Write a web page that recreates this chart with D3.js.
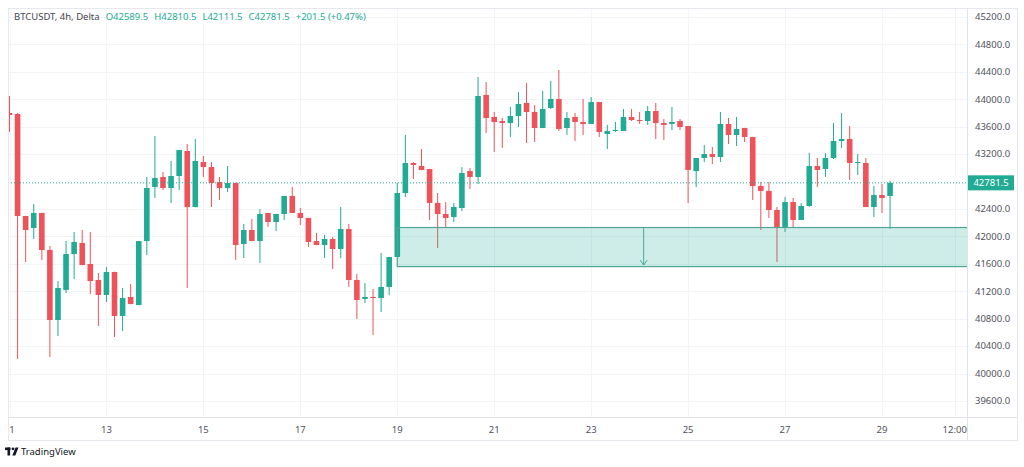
<!DOCTYPE html>
<html>
<head>
<meta charset="utf-8">
<script src="https://cdn.jsdelivr.net/npm/d3@7"></script>
<style>
  body { margin: 0; background: #fff; }
  svg { display: block; font-family: "Noto Sans", "Open Sans", sans-serif; }
</style>
</head>
<body>
<div id="chart"></div>
<script>
// BTCUSDT 4h candles, Dec 11 00:00 onward (one entry per 4h bar)
const opens = [43800, 43785, 42298, 42123, 42342, 41802, 40781, 41219, 41744, 41904,
  41598, 41365, 41146, 41481, 40840, 41117, 41000, 41933, 42721, 42867,
  42706, 42881, 43246, 42429, 43085, 43012, 42794, 42706, 42779, 41890,
  42094, 41933, 42342, 42210, 42327, 42590, 42342, 42269, 41933, 41875,
  41963, 41817, 42108, 41365, 41088, 41117, 41102, 41263, 41700, 42633,
  43071, 43027, 42983, 42488, 42327, 42283, 42415, 42954, 42867, 44063,
  43742, 43683, 43654, 43756, 43946, 43815, 43581, 43873, 44004, 43581,
  43742, 43669, 43640, 43960, 43494, 43538, 43538, 43742, 43698, 43683,
  43829, 43654, 43640, 43683, 43610, 42954, 43144, 43202, 43158, 43640,
  43479, 43581, 43450, 42735, 42663, 42385, 42123, 42502, 42240, 42444,
  43027, 42983, 43144, 43392, 43421, 43071, 43071, 42429, 42604, 42589.5];
const highs = [44048, 43800, 42300, 42473, 42345, 41860, 41350, 41933, 42065, 42094,
  42065, 41467, 41554, 41485, 41248, 41306, 41935, 42867, 43465, 42940,
  43100, 43262, 43348, 43421, 43173, 43085, 42867, 43027, 42785, 42181,
  42254, 42400, 42345, 42330, 42592, 42721, 42415, 42272, 42050, 42021,
  41992, 42429, 42181, 41452, 41321, 41233, 41758, 41702, 42779, 43479,
  43085, 43275, 42985, 42633, 42502, 42488, 43012, 42998, 44325, 44252,
  43815, 43727, 43888, 44106, 44238, 43917, 44121, 44267, 44427, 43815,
  43800, 44004, 44033, 43962, 43625, 43669, 43858, 43858, 43815, 43902,
  43946, 43713, 43888, 43713, 43612, 43146, 43333, 43304, 43815, 43727,
  43742, 43583, 43452, 42794, 42794, 42429, 42575, 42560, 42488, 43217,
  43144, 43217, 43654, 43800, 43610, 43202, 43144, 42735, 42765, 42810.5];
const lows = [43523, 40213, 41627, 41963, 41656, 40242, 40548, 41175, 41379, 41580,
  41160, 40694, 41044, 40533, 40621, 41010, 40995, 41729, 42560, 42677,
  42488, 42677, 41248, 42425, 42867, 42429, 42531, 42648, 41656, 41685,
  41930, 41613, 42138, 42079, 42240, 42340, 42167, 41846, 41872, 41685,
  41525, 41685, 41263, 40796, 41029, 40563, 40898, 41146, 41698, 42575,
  42838, 42965, 42240, 41831, 42138, 42210, 42371, 42692, 42765, 43508,
  43231, 43290, 43450, 43596, 43363, 43377, 43580, 43858, 43538, 43479,
  43392, 43479, 43638, 43450, 43275, 43523, 43536, 43683, 43640, 43625,
  43421, 43406, 43552, 43552, 42488, 42721, 43085, 43056, 43085, 43348,
  43319, 43377, 42531, 42094, 42269, 41627, 42065, 42123, 42238, 42429,
  42721, 42867, 43129, 43290, 42823, 42896, 42427, 42283, 42342, 42111.5];
const closes = [43771, 42298, 42094, 42342, 41802, 40781, 41248, 41744, 41919, 41583,
  41350, 41146, 41481, 40840, 41102, 41015, 41933, 42706, 42852, 42706,
  42881, 43260, 42429, 43100, 43012, 42779, 42706, 42779, 41875, 42094,
  41933, 42327, 42210, 42327, 42590, 42342, 42269, 41919, 41875, 41963,
  41817, 42108, 41365, 41073, 41117, 41102, 41263, 41700, 42633, 43071,
  43042, 42969, 42488, 42327, 42269, 42429, 42925, 42867, 44048, 43727,
  43669, 43654, 43756, 43931, 43815, 43581, 43858, 44004, 43567, 43727,
  43669, 43640, 43960, 43523, 43538, 43552, 43742, 43698, 43683, 43829,
  43654, 43625, 43669, 43596, 42969, 43144, 43202, 43158, 43640, 43479,
  43567, 43450, 42735, 42663, 42385, 42123, 42502, 42240, 42444, 43027,
  42969, 43144, 43392, 43421, 43071, 43085, 42429, 42604, 42560, 42781.5];

// x axis: bar index of each label (11th 00:00 is bar 0, 6 bars per day)
const xTickIndex = [0, 12, 24, 36, 48, 60, 72, 84, 96, 108, 117];
const xTickLabels = ["1", "13", "15", "17", "19", "21", "23", "25", "27", "29", "12:00"];
const yTicks = [39600, 40000, 40400, 40800, 41200, 41600, 42000, 42400, 43200, 43600, 44000, 44400, 44800, 45200];

// drawn demand zone and its arrow
const zoneStart = 48;
const zoneTop = 42130;
const zoneBottom = 41560;
const arrowIndex = 78.5;

const symbol = "BTCUSDT, 4h, Delta";
const lastPrice = 42781.5;

const candles = opens.map((o, i) => ({i: i, o: o, h: highs[i], l: lows[i], c: closes[i]}));

const width = 1024, height = 467;
const frame = {left: 8, top: 8, right: 1017, bottom: 440};
const plotRight = 967, plotBottom = 417;
const up = "#22ab94", down = "#f0525a";

const svg = d3.select("#chart").append("svg")
    .attr("width", width)
    .attr("height", height);

const x = d3.scaleLinear()
    .domain([0, 117])
    .range([9.5, 954.7]);

const y = d3.scaleLinear()
    .domain([39600, 45200])
    .range([401, 17]);

// outer frame
svg.append("rect")
    .attr("x", frame.left + 0.5).attr("y", frame.top + 0.5)
    .attr("width", frame.right - frame.left).attr("height", frame.bottom - frame.top)
    .attr("fill", "#fff").attr("stroke", "#e6e8ee");

svg.append("defs").append("clipPath").attr("id", "plot")
    .append("rect")
    .attr("x", frame.left + 1).attr("y", frame.top + 1)
    .attr("width", plotRight - frame.left - 1).attr("height", plotBottom - frame.top - 1);

// grid
const grid = svg.append("g").attr("clip-path", "url(#plot)");
grid.selectAll(".vg").data(xTickIndex).enter().append("line")
    .attr("x1", d => Math.round(x(d)) + 0.5).attr("x2", d => Math.round(x(d)) + 0.5)
    .attr("y1", frame.top).attr("y2", plotBottom)
    .attr("stroke", "#f3f4f7");
grid.selectAll(".hg").data(yTicks).enter().append("line")
    .attr("x1", frame.left).attr("x2", plotRight)
    .attr("y1", d => Math.round(y(d)) + 0.5).attr("y2", d => Math.round(y(d)) + 0.5)
    .attr("stroke", "#f3f4f7");

// axis separators
svg.append("line")
    .attr("x1", plotRight + 0.5).attr("x2", plotRight + 0.5)
    .attr("y1", frame.top).attr("y2", frame.bottom)
    .attr("stroke", "#e0e3eb");
svg.append("line")
    .attr("x1", frame.left).attr("x2", frame.right)
    .attr("y1", plotBottom + 0.5).attr("y2", plotBottom + 0.5)
    .attr("stroke", "#e0e3eb");

const plot = svg.append("g").attr("clip-path", "url(#plot)");

// candles
const bodyW = 5.6;
const g = plot.selectAll(".candle").data(candles).enter().append("g");
g.append("line")
    .attr("x1", d => x(d.i)).attr("x2", d => x(d.i))
    .attr("y1", d => y(d.h)).attr("y2", d => y(d.l))
    .attr("stroke", d => d.c >= d.o ? up : down)
    .attr("stroke-width", 1);
g.append("rect")
    .attr("x", d => x(d.i) - bodyW / 2)
    .attr("y", d => y(Math.max(d.o, d.c)))
    .attr("width", bodyW)
    .attr("height", d => Math.max(1, Math.abs(y(d.o) - y(d.c))))
    .attr("fill", d => d.c >= d.o ? up : down);

// last price dotted line
plot.append("line")
    .attr("x1", frame.left).attr("x2", plotRight)
    .attr("y1", y(lastPrice)).attr("y2", y(lastPrice))
    .attr("stroke", up).attr("stroke-width", 1)
    .attr("stroke-dasharray", "1,2");

// zone rectangle
plot.append("rect")
    .attr("x", x(zoneStart))
    .attr("y", y(zoneTop))
    .attr("width", plotRight - x(zoneStart) + 5)
    .attr("height", y(zoneBottom) - y(zoneTop))
    .attr("fill", "rgba(34,171,148,0.22)")
    .attr("stroke", "#4fa596").attr("stroke-width", 1.2);

// arrow inside zone
const ax = x(arrowIndex), ay1 = y(zoneTop), ay2 = y(zoneBottom) - 1.5;
plot.append("line")
    .attr("x1", ax).attr("x2", ax).attr("y1", ay1).attr("y2", ay2)
    .attr("stroke", "#4fa596").attr("stroke-width", 1);
plot.append("path")
    .attr("d", `M${ax - 3.5},${ay2 - 5}L${ax},${ay2}L${ax + 3.5},${ay2 - 5}`)
    .attr("fill", "none").attr("stroke", "#4fa596").attr("stroke-width", 1);

// y axis labels
svg.append("g").selectAll("text").data(yTicks).enter().append("text")
    .attr("x", 975).attr("y", d => y(d))
    .attr("dy", "0.35em")
    .attr("font-size", 9.5).attr("fill", "#50535e")
    .text(d => d.toFixed(1));

// last price tag
svg.append("rect")
    .attr("x", plotRight + 1).attr("y", y(lastPrice) - 7.5)
    .attr("width", 46).attr("height", 15)
    .attr("fill", up);
svg.append("text")
    .attr("x", plotRight + 24).attr("y", y(lastPrice))
    .attr("dy", "0.35em").attr("text-anchor", "middle")
    .attr("font-size", 9.5).attr("fill", "#fff")
    .text(lastPrice.toFixed(1));

// x axis labels
svg.append("g").selectAll("text").data(xTickIndex).enter().append("text")
    .attr("x", (d, i) => i === 0 ? x(d) + 2.5 : x(d))
    .attr("y", 430).attr("dy", "0.35em")
    .attr("text-anchor", "middle")
    .attr("font-size", 9.5).attr("fill", "#50535e")
    .text((d, i) => xTickLabels[i]);

// header legend
const legend = svg.append("text")
    .attr("x", 14).attr("y", 17).attr("dy", "0.35em")
    .attr("font-size", 9.5);
legend.append("tspan").attr("fill", "#434651").text(symbol);
const last = candles[candles.length - 1];
const change = last.c - closes[closes.length - 2] - 22;
[["O", last.o], ["H", last.h], ["L", last.l], ["C", last.c]].forEach(([k, v]) => {
    legend.append("tspan").attr("dx", 6).attr("fill", up).text(k + v.toFixed(1));
});
legend.append("tspan").attr("dx", 6).attr("fill", up).text("+201.5 (+0.47%)");

// TradingView footer mark
const logo = svg.append("g").attr("transform", "translate(5,447)");
logo.append("rect").attr("x", 0).attr("y", 0.5).attr("width", 5.5).attr("height", 2.6).attr("fill", "#131722");
logo.append("rect").attr("x", 2.5).attr("y", 0.5).attr("width", 2.6).attr("height", 8).attr("fill", "#131722");
logo.append("circle").attr("cx", 8).attr("cy", 1.8).attr("r", 1.4).attr("fill", "#131722");
logo.append("path").attr("d", "M10.5,0.5L13.5,0.5L10.3,8.5L7.3,8.5Z").attr("fill", "#131722");
svg.append("text")
    .attr("x", 21).attr("y", 452).attr("dy", "0.35em")
    .attr("font-size", 9.5).attr("fill", "#131722")
    .text("TradingView");
</script>
</body>
</html>
